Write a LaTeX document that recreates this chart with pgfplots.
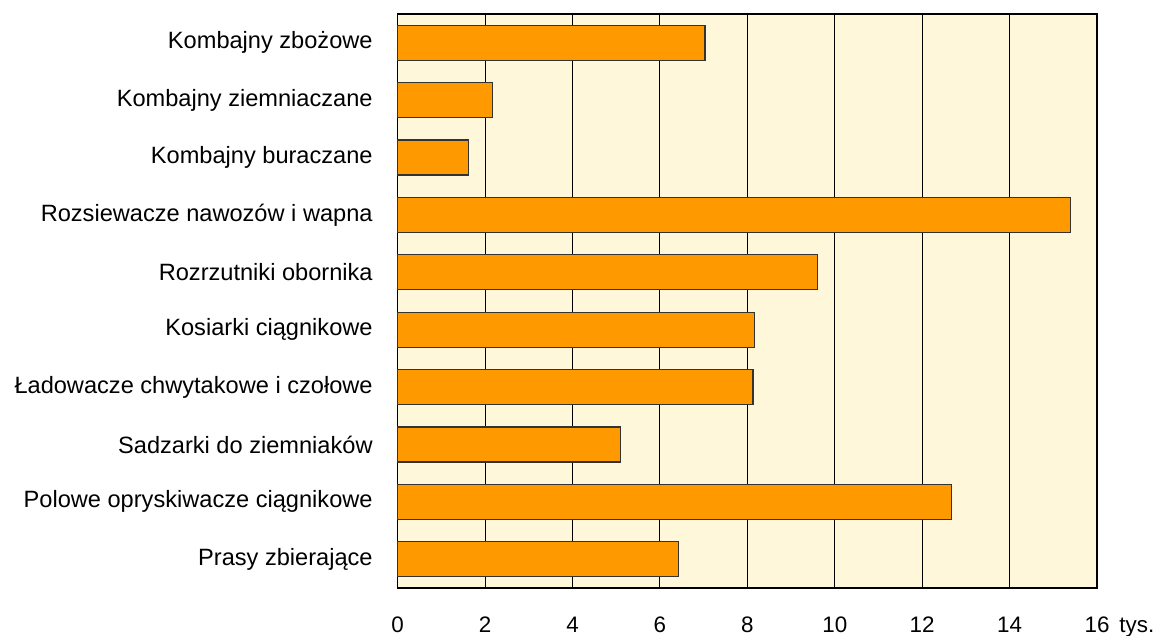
\documentclass[border=0pt]{standalone}
\usepackage{pgfplots}
\pgfplotsset{compat=1.18}
\usepackage{fontspec}
\setmainfont{Liberation Sans}
\definecolor{barorange}{HTML}{FF9900}
\definecolor{bgyellow}{HTML}{FFF7DA}
\begin{document}
\begin{tikzpicture}
\useasboundingbox (-198.85pt,-24pt) rectangle (381.65pt,294pt);
\begin{axis}[
  scale only axis,
  width=349.65pt, height=287pt,
  xmin=0, xmax=16, ymin=-0.5, ymax=9.5,
  y dir=reverse,
  xbar, bar width=0.61,
  axis background/.style={fill=bgyellow},
  axis line style={black, line width=0.7pt},
  xtick={0,2,...,16},
  xticklabels={0,2,4,6,8,10,12,14,16\rlap{\hspace{5pt}tys.}},
  xmajorgrids, grid style={black, line width=0.5pt},
  major tick length=0pt,
  ytick={0,...,9},
  yticklabels={Kombajny zbożowe, Kombajny ziemniaczane, Kombajny buraczane, Rozsiewacze nawozów i wapna, Rozrzutniki obornika, Kosiarki ciągnikowe, Ładowacze chwytakowe i czołowe, Sadzarki do ziemniaków, Polowe opryskiwacze ciągnikowe, Prasy zbierające},
  yticklabel style={font=\fontsize{11.8}{13}\selectfont, xshift=-9pt},
  xticklabel style={font=\fontsize{11.2}{13}\selectfont, anchor=base, yshift=-22.3pt},
  /pgf/number format/assume math mode=true,
  clip=false,
]
\addplot[fill=barorange, draw=black!80, line width=0.6pt] coordinates {
(7.03,0) (2.17,1) (1.62,2) (15.40,3) (9.60,4) (8.17,5) (8.13,6) (5.10,7) (12.68,8) (6.42,9)};
\end{axis}
\end{tikzpicture}
\end{document}
